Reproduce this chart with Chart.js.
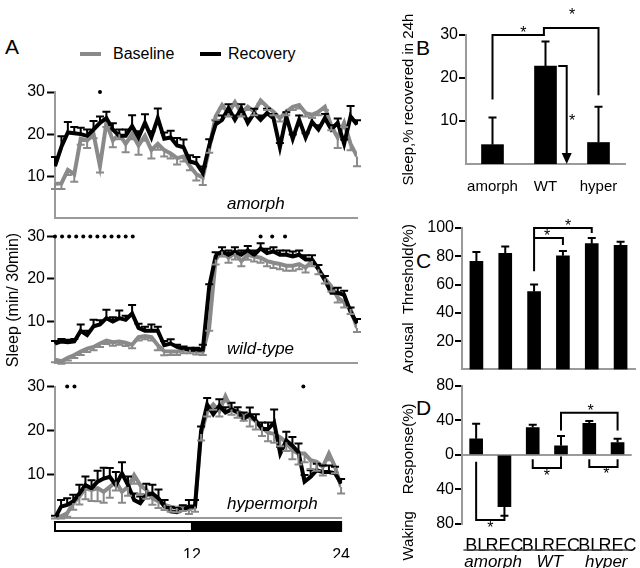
<!DOCTYPE html>
<html>
<head>
<meta charset="utf-8">
<script src="https://cdn.jsdelivr.net/npm/chart.js@4.4.1/dist/chart.umd.min.js"></script>
<style>
  body { margin: 0; background: #fff; width: 640px; height: 568px; position: relative; overflow: hidden;
         font-family: "Liberation Sans", Arial, sans-serif; }
  canvas { position: absolute; }
  .panel { position: absolute; font-size: 21px; color: #000; line-height: 1; }
  .legend { position: absolute; top: 45px; font-size: 16px; line-height: 18px; }
  .swatch { position: absolute; width: 21px; height: 4px; top: 7px; }
</style>
</head>
<body>
<div class="panel" style="left:5px;top:36px">A</div>
<div class="panel" style="left:416px;top:37px">B</div>
<div class="panel" style="left:416px;top:250px">C</div>
<div class="panel" style="left:416px;top:397px">D</div>
<div class="legend" style="left:80px"><span class="swatch" style="left:0;background:#8a8a8a"></span><span style="position:absolute;left:33px">Baseline</span></div>
<div class="legend" style="left:200px"><span class="swatch" style="left:0;background:#000"></span><span style="position:absolute;left:28px">Recovery</span></div>

<canvas id="amorph" width="370" height="150" style="left:0;top:80px"></canvas>
<canvas id="wild" width="370" height="150" style="left:0;top:225px"></canvas>
<canvas id="hyper" width="370" height="193" style="left:0;top:375px"></canvas>
<canvas id="chartB" width="240" height="200" style="left:400px;top:0"></canvas>
<canvas id="chartC" width="240" height="180" style="left:400px;top:200px"></canvas>
<canvas id="chartD" width="240" height="193" style="left:400px;top:375px"></canvas>

<script>
// ---- Panel A: sleep per 30 min bin over 24 h ----
const hours = Array.from({ length: 48 }, (_, i) => i * 0.5);
const sleepTicks = [10, 20, 30];
const dayTickValues = [11.25, 23.5];
const dayTickLabels = ['12', '24'];
const lightDark = [[0, 11.25, 'light'], [11.25, 23.5, 'dark']];

const amorphBase = [8.2, 8.3, 11.5, 10.5, 18.9, 18.5, 20, 12.4, 22.7, 18.5, 20, 17.7, 20, 17.3, 19.6, 16.2,
  17.7, 16.2, 15.4, 14.3, 14.7, 12.4, 10.5, 9.7, 16.6, 24.2, 26.9, 25, 27.6, 25, 26.5, 25.3,
  28, 26.5, 25.3, 23.8, 25.3, 26.5, 26.9, 25, 24.6, 25.3, 26.5, 21.9, 19.2, 22.7, 17.7, 14.7];
const amorphBaseErr = [1.2, 1.3, 1.2, 1.8, 1.4, 1.8, 1.0, 1.5, 1.0, 1.6, 1.2, 2.0, 1.2, 2.2, 1.2, 2.0,
  1.4, 1.5, 1.2, 1.5, 1.2, 1.0, 1.5, 1.8, 1.0, 0.8, 0.8, 0.8, 0.8, 0.8, 0.8, 0.8,
  0.8, 0.8, 0.8, 0.8, 0.8, 0.8, 0.8, 0.8, 0.8, 0.8, 0.8, 1.0, 2.5, 1.0, 1.5, 2.3];
const amorphRec = [12.4, 17, 20.4, 20.2, 20, 19.6, 21.1, 22.7, 23.8, 21.1, 19.6, 19.6, 21.9, 19.2, 22.7, 19.2,
  23.8, 18.9, 19.2, 17.3, 16.9, 13.5, 13.1, 10.8, 17.3, 22.3, 23.4, 26.1, 23.4, 26.1, 22.7, 25,
  23.4, 25, 23.8, 16.9, 24.2, 18.9, 23.4, 19.2, 22.9, 21.1, 23.8, 21.1, 22.7, 17.7, 24.2, 22.3];
const amorphRecErr = [2.2, 2.5, 2.5, 1.5, 1.5, 1.5, 2.0, 1.5, 1.5, 1.5, 1.5, 1.5, 2.6, 1.5, 2.0, 1.5,
  2.3, 1.5, 1.6, 1.8, 1.8, 1.5, 1.5, 1.5, 1.5, 1.0, 1.0, 1.0, 1.0, 1.0, 1.0, 1.0,
  1.0, 1.0, 1.0, 1.0, 1.0, 1.0, 1.0, 1.0, 1.0, 1.0, 1.0, 1.0, 1.0, 1.0, 2.5, 1.0];

const wildBase = [0.9, 0.5, 1.3, 2, 2.8, 3.5, 3.9, 4.7, 5.4, 5, 5.2, 4.9, 4.4, 6.2, 6.5, 6.2,
  4.3, 2.9, 2.8, 2.8, 3.2, 3.2, 2.9, 2.8, 8.5, 24.6, 26.5, 25, 26.1, 24.2, 25.7, 25.3,
  25, 24.2, 23.8, 23.5, 23.1, 23.1, 23.5, 22.7, 24.2, 22.3, 20.1, 18.2, 15.6, 14.4, 12.9, 8.4];
const wildBaseErr = [0.6, 0.6, 0.6, 0.7, 0.8, 0.8, 0.8, 0.8, 0.8, 0.8, 0.8, 0.8, 0.8, 0.8, 0.8, 0.8,
  1.2, 1.0, 0.8, 0.8, 0.8, 0.8, 0.8, 0.8, 0.8, 1.2, 1.2, 1.2, 1.5, 1.2, 1.2, 1.2,
  1.2, 1.2, 1.2, 1.2, 1.2, 1.2, 1.2, 1.2, 1.2, 1.2, 1.2, 1.2, 1.2, 1.2, 1.2, 1.0];
const wildRec = [4.7, 5.2, 5, 5.2, 7.7, 6.7, 8.8, 9.2, 10.7, 9.9, 10.7, 10.3, 11.8, 8.4, 7.7, 7.7,
  7.7, 4.3, 4.7, 3.9, 3.5, 3.2, 3.2, 3.2, 18.2, 25.3, 26.5, 25.7, 26.5, 25.7, 26.8, 25.7,
  27.2, 26.1, 26.5, 25.7, 25.7, 25.3, 25.7, 24.6, 24.6, 22.3, 19.7, 16.7, 16.7, 16.2, 12.2, 9.5];
const wildRecErr = [0.6, 0.6, 0.6, 0.6, 1.5, 1.0, 1.5, 1.0, 2.0, 1.0, 1.8, 1.0, 2.0, 1.0, 1.0, 1.5,
  1.0, 1.0, 1.0, 0.5, 0.5, 0.5, 0.5, 1.2, 0.5, 1.0, 1.0, 1.0, 1.0, 1.0, 1.0, 1.0,
  1.2, 1.0, 1.0, 1.0, 1.0, 1.2, 1.0, 1.0, 1.0, 1.0, 1.0, 1.0, 1.2, 1.0, 1.0, 1.0];

const hyperBase = [0.4, 0.4, 1.1, 3.4, 4.9, 6.8, 6.4, 6.8, 6, 7.1, 8.3, 6, 7.1, 9.8, 7.5, 6.4,
  4.5, 3.8, 3, 2.6, 2.3, 2.6, 1.9, 2.6, 19.2, 24.4, 25.9, 24.4, 27.8, 24.8, 24.4, 23.7,
  22.9, 22.2, 20.7, 19.5, 19.2, 18.4, 17.3, 15.4, 14.7, 14.7, 13.2, 12.8, 11.7, 14.7, 11.7, 7.1];
const hyperBaseErr = [0.5, 0.5, 0.8, 1.5, 1.8, 2.5, 2.5, 3.0, 2.5, 2.5, 2.0, 2.5, 2.0, 2.0, 2.0, 2.0,
  1.5, 1.5, 1.2, 1.2, 1.0, 1.0, 1.0, 1.2, 1.5, 1.2, 1.2, 1.2, 1.2, 1.2, 1.5, 1.5,
  2.0, 2.0, 2.0, 2.0, 2.0, 2.0, 2.0, 2.0, 2.5, 2.0, 2.0, 2.0, 2.0, 1.5, 1.5, 1.5];
const hyperRec = [0, 2.6, 3, 3.8, 5.6, 7.5, 6.8, 8.3, 9, 9.4, 7.5, 10.2, 7.5, 4.1, 3.4, 5.3,
  5.6, 4.5, 2.6, 1.5, 1.3, 1.9, 2.6, 2.6, 19.9, 25.9, 23.7, 25.6, 24.1, 24.8, 24.1, 22.6,
  23.7, 22.2, 20.3, 20.3, 21.8, 14.7, 17.7, 16.5, 15, 8.3, 9.4, 10.9, 10.5, 10.5, 10.2, 7.9];
const hyperRecErr = [0.5, 1.5, 1.5, 1.5, 2.0, 2.0, 1.8, 2.5, 2.5, 2.0, 3.0, 2.5, 2.0, 1.5, 1.5, 2.5,
  2.0, 2.0, 1.5, 1.0, 1.0, 1.0, 1.5, 1.5, 1.0, 1.5, 1.2, 1.5, 1.2, 1.5, 1.2, 1.5,
  1.5, 1.5, 1.5, 1.5, 3.0, 1.5, 2.0, 2.0, 2.0, 1.5, 1.5, 1.5, 1.5, 1.5, 1.5, 1.0];

// significance markers (time in h)
const amorphMarks = [3.5];
const wildMarks = [0, 0.55, 1.1, 1.65, 2.2, 2.75, 3.3, 3.85, 4.4, 4.95, 5.5, 6.05, 16.0, 16.9, 17.9];
const hyperMarks = [1.0, 1.6, 20.4];

// ---- Panel B: sleep recovered in 24 h ----
const groupsB = ['amorph', 'WT', 'hyper'];
const recovered = [4.5, 22.8, 5];
const recoveredErr = [6.3, 5.7, 8.3];
const ticksB = [10, 20, 30];

// ---- Panels C and D ----
const condLabels = ['BL', 'REC', 'BL', 'REC', 'BL', 'REC'];
const genotypes = ['amorph', 'WT', 'hyper'];
const arousal = [76.4, 82, 55, 80.3, 88.9, 87.7];
const arousalErr = [6.6, 5, 5, 3.5, 4.1, 2.6];
const ticksC = [20, 40, 60, 80, 100];
const waking = [18.6, -60, 31.6, 10.4, 36.4, 14.1];
const wakingErr = [17.4, 10.6, 3, 11.2, 2.6, 4.5];
const ticksD = [-80, -40, 0, 40, 80];

const FONT = '"Liberation Sans", Arial, sans-serif';
Chart.defaults.font.family = FONT;
Chart.defaults.color = '#000';
const GRAY = '#8a8a8a';
const AXIS = '#9a9a9a';

// error bars: up for positive direction, down for negative
const errorBars = {
  id: 'errorBars',
  afterDatasetsDraw(chart) {
    const ctx = chart.ctx;
    chart.data.datasets.forEach((ds, di) => {
      if (!ds.errors) return;
      const meta = chart.getDatasetMeta(di);
      const ys = chart.scales[meta.yAxisID];
      ctx.save();
      ctx.strokeStyle = ds.errorColor || ds.borderColor;
      ctx.lineWidth = 2;
      meta.data.forEach((el, i) => {
        const v = ds.data[i], e = ds.errors[i];
        if (!e) return;
        const dir = ds.errorDir || (v < 0 ? -1 : 1);
        const y0 = ys.getPixelForValue(v), y1 = ys.getPixelForValue(v + dir * e);
        ctx.beginPath();
        ctx.moveTo(el.x, y0); ctx.lineTo(el.x, y1);
        ctx.moveTo(el.x - 4, y1); ctx.lineTo(el.x + 4, y1);
        ctx.stroke();
      });
      ctx.restore();
    });
  }
};

// brackets, asterisks and arrow drawn in data coordinates
function sigMarks(paths, stars, arrow) {
  return {
    id: 'sigMarks',
    afterDraw(chart) {
      const { ctx, scales: { x, y } } = chart;
      const P = (a, b) => [x.getPixelForValue(a), y.getPixelForValue(b)];
      ctx.save();
      ctx.strokeStyle = '#000'; ctx.fillStyle = '#000'; ctx.lineWidth = 2;
      paths.forEach(p => {
        ctx.beginPath();
        p.forEach(([a, b], i) => { const [px, py] = P(a, b); i ? ctx.lineTo(px, py) : ctx.moveTo(px, py); });
        ctx.stroke();
      });
      if (arrow) {
        ctx.beginPath();
        arrow.forEach(([a, b], i) => { const [px, py] = P(a, b); i ? ctx.lineTo(px, py) : ctx.moveTo(px, py); });
        ctx.stroke();
        const [tx, ty] = P(arrow[arrow.length - 1][0], 0);
        ctx.beginPath();
        ctx.moveTo(tx - 5, ty - 11); ctx.lineTo(tx + 5, ty - 11); ctx.lineTo(tx, ty); ctx.closePath(); ctx.fill();
      }
      ctx.font = '16px ' + FONT; ctx.textAlign = 'center'; ctx.textBaseline = 'middle';
      stars.forEach(([a, b]) => { const [px, py] = P(a, b); ctx.fillText('*', px, py + 4); });
      ctx.restore();
    }
  };
}

// light/dark bar under the hypermorph plot
const lightDarkBar = {
  id: 'lightDarkBar',
  afterDraw(chart) {
    const { ctx, chartArea, scales: { x } } = chart;
    const top = chartArea.bottom + 4, h = 9;
    ctx.save();
    lightDark.forEach(([a, b, kind]) => {
      const x0 = x.getPixelForValue(a), x1 = x.getPixelForValue(b);
      ctx.fillStyle = kind === 'dark' ? '#000' : '#fff';
      ctx.fillRect(x0, top, x1 - x0, h);
      ctx.strokeStyle = '#000'; ctx.lineWidth = 2;
      ctx.strokeRect(x0, top, x1 - x0, h);
    });
    ctx.restore();
  }
};

// italic genotype name inside each panel A plot
function tag(text) {
  return {
    id: 'tag',
    afterDraw(chart) {
      const { ctx, chartArea } = chart;
      ctx.save();
      ctx.font = 'italic 17px ' + FONT;
      ctx.fillStyle = '#000'; ctx.textAlign = 'left'; ctx.textBaseline = 'alphabetic';
      ctx.fillText(text, chartArea.left + 172, chartArea.bottom - 9);
      ctx.restore();
    }
  };
}

function sleepChart(id, base, baseErr, rec, recErr, marks, opts) {
  return new Chart(document.getElementById(id), {
    type: 'line',
    data: {
      labels: hours,
      datasets: [
        { label: 'marks', data: marks.map(t => ({ x: t, y: 30 })), showLine: false, pointRadius: 2,
          pointBackgroundColor: '#000', pointBorderWidth: 0, clip: false, order: 0 },
        { label: 'Recovery', data: rec, errors: recErr, errorDir: 1, borderColor: '#000', borderWidth: 4,
          pointRadius: 0, tension: 0, order: 1 },
        { label: 'Baseline', data: base, errors: baseErr, errorDir: -1, borderColor: GRAY, borderWidth: 4,
          pointRadius: 0, tension: 0, order: 2 }
      ]
    },
    options: {
      responsive: false, animation: false, devicePixelRatio: 1, events: [],
      layout: { padding: opts.padding },
      plugins: { legend: { display: false }, tooltip: { enabled: false } },
      scales: {
        x: {
          type: 'linear', min: 0, max: 23.5,
          ticks: opts.xTicks ? {
            font: { size: 16 }, padding: 20, maxRotation: 0, autoSkip: false,
            callback: (v, i) => dayTickLabels[i]
          } : { display: false },
          afterBuildTicks: s => { s.ticks = dayTickValues.map(v => ({ value: v })); },
          grid: { display: false },
          border: { color: AXIS, width: 2 },
          afterFit: s => { s.height = opts.xTicks ? 40 : 0; }
        },
        y: {
          min: 0, max: 30,
          afterBuildTicks: s => { s.ticks = sleepTicks.map(v => ({ value: v })); },
          ticks: { font: { size: 16 }, padding: 2 },
          grid: { drawOnChartArea: false, tickLength: 8, tickWidth: 2, tickColor: '#000' },
          border: { color: AXIS, width: 2 },
          title: opts.title ? { display: true, text: opts.title, font: { size: 16 }, padding: { top: 4, bottom: 0 } }
                            : { display: false },
          afterFit: s => { s.width = 55; }
        }
      }
    },
    plugins: [errorBars].concat(opts.extra || [])
  });
}

sleepChart('amorph', amorphBase, amorphBaseErr, amorphRec, amorphRecErr, amorphMarks,
  { padding: { top: 12, bottom: 7, right: 13, left: 0 }, extra: [tag('amorph')] });
sleepChart('wild', wildBase, wildBaseErr, wildRec, wildRecErr, wildMarks,
  { padding: { top: 11, bottom: 8, right: 13, left: 0 }, title: 'Sleep (min/ 30min)', extra: [tag('wild-type')] });
sleepChart('hyper', hyperBase, hyperBaseErr, hyperRec, hyperRecErr, hyperMarks,
  { padding: { top: 10, bottom: 10, right: 13, left: 0 }, xTicks: true, extra: [lightDarkBar, tag('hypermorph')] });

function barOptions(o) {
  return {
    responsive: false, animation: false, devicePixelRatio: 1, events: [],
    layout: { padding: o.padding },
    plugins: { legend: { display: false }, tooltip: { enabled: false } },
    scales: {
      x: {
        ticks: o.xLabels ? { font: { size: o.xFont }, padding: o.xPad, maxRotation: 0, autoSkip: false } : { display: false },
        grid: { display: false },
        border: o.noXBorder ? { display: false } : { color: AXIS, width: 2 },
        afterFit: s => { s.height = o.xHeight; }
      },
      y: {
        min: o.min, max: o.max,
        afterBuildTicks: s => { s.ticks = o.ticks.map(v => ({ value: v })); },
        ticks: { font: { size: 16 }, padding: 1, callback: v => String(Math.abs(v)) },
        grid: {
          drawOnChartArea: !!o.zeroLine, tickLength: 7, tickWidth: 2, tickColor: '#000', lineWidth: 2,
          color: c => (o.zeroLine && c.tick && c.tick.value === 0) ? AXIS : 'rgba(0,0,0,0)'
        },
        border: { color: AXIS, width: 2 },
        title: { display: !!o.title, text: o.title || '', font: { size: 15 }, padding: { top: 0, bottom: 0 } },
        afterFit: s => { s.width = o.yWidth; }
      }
    }
  };
}

new Chart(document.getElementById('chartB'), {
  type: 'bar',
  data: { labels: groupsB, datasets: [{ data: recovered, errors: recoveredErr, backgroundColor: '#000',
    borderColor: '#000', barThickness: 22 }] },
  options: barOptions({ padding: { top: 35, right: 15, bottom: 6, left: 0 }, xLabels: true, xFont: 15, xPad: 6,
    xHeight: 30, min: 0, max: 30, ticks: ticksB, title: 'Sleep,% recovered in 24h', yWidth: 66 }),
  plugins: [errorBars, sigMarks(
    [[[0, 15], [0, 30], [0.97, 30], [0.97, 31.6], [2, 31.6], [2, 16]]],
    [[0.58, 31.2], [1.5, 35.4], [1.5, 10.7]],
    [[1.24, 22.8], [1.4, 22.8], [1.4, 2]])]
});

new Chart(document.getElementById('chartC'), {
  type: 'bar',
  data: { labels: condLabels, datasets: [{ data: arousal, errors: arousalErr, backgroundColor: '#000',
    borderColor: '#000', barThickness: 13 }] },
  options: barOptions({ padding: { top: 28, right: 5, bottom: 8, left: 0 }, xLabels: false, xHeight: 0,
    min: 0, max: 100, ticks: ticksC, title: 'Arousal  Threshold(%)', yWidth: 62 }),
  plugins: [errorBars, sigMarks(
    [[[2, 69.4], [2, 100], [4, 100], [4, 96.5]], [[2, 93], [3, 93], [3, 88]]],
    [[3.18, 104], [2.45, 97]])]
});

// group underlines, genotype names and the side title of panel D
const dExtras = {
  id: 'dExtras',
  afterDraw(chart) {
    const { ctx, chartArea, scales: { x } } = chart;
    ctx.save();
    ctx.strokeStyle = '#444'; ctx.lineWidth = 1.5;
    ctx.fillStyle = '#000'; ctx.font = 'italic 17px ' + FONT; ctx.textAlign = 'center'; ctx.textBaseline = 'middle';
    genotypes.forEach((g, k) => {
      const a = x.getPixelForValue(2 * k - 0.45), b = x.getPixelForValue(2 * k + 1.45);
      ctx.beginPath(); ctx.moveTo(a, chartArea.bottom + 26); ctx.lineTo(b, chartArea.bottom + 26); ctx.stroke();
      ctx.fillText(g, x.getPixelForValue(2 * k + 0.6), chartArea.bottom + 38);
    });
    ctx.font = '15px ' + FONT;
    ctx.translate(9, chartArea.bottom - 42);
    ctx.rotate(-Math.PI / 2);
    ctx.fillText('Waking    Response(%)', 0, 0);
    ctx.restore();
  }
};

new Chart(document.getElementById('chartD'), {
  type: 'bar',
  data: { labels: condLabels, datasets: [{ data: waking, errors: wakingErr, backgroundColor: '#000',
    borderColor: '#000', barThickness: 13 }] },
  options: barOptions({ padding: { top: 7, right: 5, bottom: 10, left: 0 }, xLabels: true, xFont: 18, xPad: 3,
    xHeight: 34, noXBorder: true, zeroLine: true, min: -80, max: 80, ticks: ticksD, yWidth: 62 }),
  plugins: [errorBars, dExtras, sigMarks(
    [[[0, -8], [0, -75.5], [1, -75.5], [1, -70.6]],
     [[2, -5], [2, -15.4], [3, -15.4], [3, -2]],
     [[4, -5], [4, -14], [5, -14], [5, -5]],
     [[3, 28], [3, 48.5], [5, 48.5], [5, 28]]],
    [[0.5, -81], [2.5, -21], [4.6, -18], [4.05, 55]])]
});
</script>
</body>
</html>
